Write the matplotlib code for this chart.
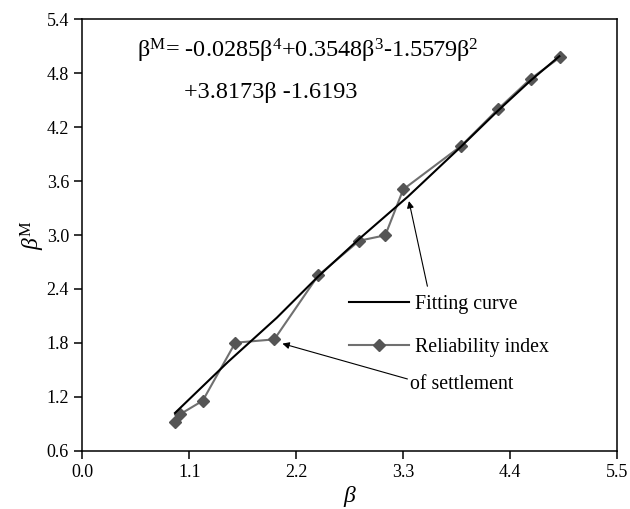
import numpy as np
import matplotlib
matplotlib.use("Agg")
import matplotlib.pyplot as plt

plt.rcParams["font.family"] = ["Liberation Serif", "DejaVu Serif"]
plt.rcParams["mathtext.fontset"] = "custom"
plt.rcParams["mathtext.rm"] = "Liberation Serif"
plt.rcParams["mathtext.it"] = "Liberation Serif:italic"

# reliability index of settlement
beta = [0.953, 1.004, 1.238, 1.573, 1.974, 2.426, 2.848, 3.115, 3.300, 3.893, 4.271, 4.610, 4.911]
beta_m = [0.923, 1.005, 1.156, 1.802, 1.839, 2.551, 2.937, 2.997, 3.508, 3.990, 4.398, 4.739, 4.977]

# fitting curve as drawn in the figure
fit_x = [0.953, 1.5, 2.0, 2.426, 2.85, 3.35, 3.89, 4.27, 4.61, 4.905]
fit_y = [1.02, 1.59, 2.08, 2.54, 2.96, 3.43, 3.98, 4.38, 4.72, 4.99]

xticks = [0.0, 1.1, 2.2, 3.3, 4.4, 5.5]
yticks = [0.6, 1.2, 1.8, 2.4, 3.0, 3.6, 4.2, 4.8, 5.4]

fig = plt.figure(figsize=(6.3, 5.09), dpi=100)
ax = fig.add_axes([0.1306, 0.1145, 0.8492, 0.8475])

ax.plot(fit_x, fit_y, color="black", lw=1.5, label="Fitting curve", zorder=3)
ax.plot(beta, beta_m, color="#707070", lw=1.5, marker="D", markersize=6.5,
        markerfacecolor="#555555", markeredgecolor="#555555",
        label="Reliability index", zorder=2)

ax.set_xlim(0, 5.5)
ax.set_ylim(0.6, 5.4)
ax.set_xticks(xticks)
ax.set_yticks(yticks)
ax.set_xticklabels([f"{v:.1f}" for v in xticks])
ax.set_yticklabels([f"{v:.1f}" for v in yticks])
ax.tick_params(direction="out", length=6, width=1.1, labelsize=13, top=False, right=False)
for s in ax.spines.values():
    s.set_linewidth(1.1)

ax.set_xlabel(r"$\beta$", fontsize=17, labelpad=2)
ax.set_ylabel(r"$\beta^{\mathrm{M}}$", fontsize=17, labelpad=0, rotation=90)

eq1 = r"β$^{\mathrm{M}}$= -0.0285β$^{4}$+0.3548β$^{3}$-1.5579β$^{2}$"
eq2 = "+3.8173β -1.6193"
ax.text(0.567, 5.05, eq1, fontsize=17.5, va="center", ha="left")
ax.text(1.05, 4.59, eq2, fontsize=17.5, va="center", ha="left")

leg = ax.legend(loc="upper left", bbox_to_anchor=(0.466, 0.402), frameon=False,
                fontsize=14.3, handlelength=3.0, handletextpad=0.3, labelspacing=1.2)

ax.text(3.37, 1.34, "of settlement", fontsize=14.3, va="center", ha="left")

ax.annotate("", xy=(3.352, 3.408), xytext=(3.554, 2.40),
            arrowprops=dict(arrowstyle="-|>", color="black", lw=0.8, mutation_scale=10))
ax.annotate("", xy=(2.03, 1.80), xytext=(3.37, 1.39),
            arrowprops=dict(arrowstyle="-|>", color="black", lw=0.8, mutation_scale=10))

fig.savefig("out.png", dpi=100)
